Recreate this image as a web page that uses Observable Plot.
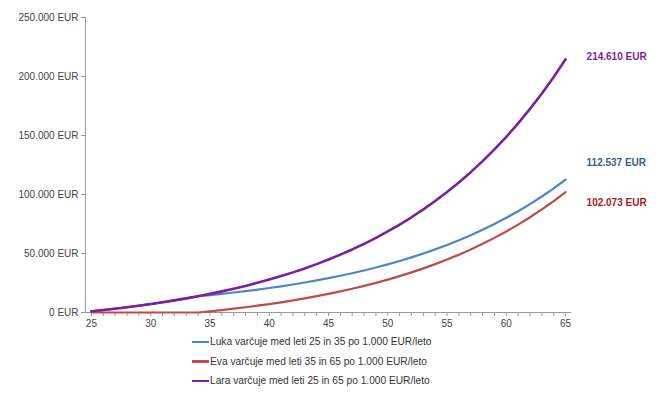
<!DOCTYPE html>
<html>
<head>
<meta charset="utf-8">
<script src="https://cdn.jsdelivr.net/npm/d3@7"></script>
<script src="https://cdn.jsdelivr.net/npm/@observablehq/plot@0.6"></script>
<style>
  body { margin: 0; background: #fff; font-family: "Liberation Sans", Arial, sans-serif; }
  #legend { position: relative; margin-left: 192px; font-size: 10.2px; color: #333; }
  #legend .row { height: 19.5px; display: flex; align-items: center; }
  #legend .sw { width: 17px; height: 2.5px; margin-right: 1px; }
</style>
</head>
<body>
<div id="chart"></div>
<div id="legend"></div>
<script>
const ages = [25,26,27,28,29,30,31,32,33,34,35,36,37,38,39,40,41,42,43,44,45,46,47,48,49,50,51,52,53,54,55,56,57,58,59,60,61,62,63,64,65];
const luka = [1000,2070,3215,4440,5751,7153,8654,10260,11978,13816,14784,15818,16926,18110,19378,20735,22186,23739,25401,27179,29081,31118,33295,35627,38120,40788,43644,46699,49967,53466,57208,61212,65497,70081,74987,80237,85853,91863,98294,105174,112537];
const eva = [0,0,0,0,0,0,0,0,0,0,1000,2070,3215,4440,5751,7153,8654,10260,11978,13816,15784,17888,20141,22550,25129,27888,30840,33999,37379,40995,44865,49006,53436,58177,63249,68676,74484,80698,87346,94461,102073];
const lara = [1000,2070,3215,4440,5751,7153,8654,10260,11978,13816,15784,17888,20141,22550,25129,27888,30840,33999,37379,40995,44865,49006,53436,58177,63249,68676,74484,80698,87346,94461,102073,110218,118933,128258,138236,148913,160337,172561,185640,199635,214610];
const seriesNames = ["Luka varčuje med leti 25 in 35 po 1.000 EUR/leto","Eva varčuje med leti 35 in 65 po 1.000 EUR/leto","Lara varčuje med leti 25 in 65 po 1.000 EUR/leto"];
const endLabels = ["112.537 EUR","102.073 EUR","214.610 EUR"];
const yTicks = [0,50000,100000,150000,200000,250000];
const yTickLabels = ["0 EUR","50.000 EUR","100.000 EUR","150.000 EUR","200.000 EUR","250.000 EUR"];
const xLabelTicks = [25,30,35,40,45,50,55,60,65];

const lineColors = ["#4A86CF","#BE4B48","#7A1FA0"];
const labelColors = ["#366092","#A51C1C","#7A1FA0"];
const widths = [2.2,2.2,2.6];
const seriesVals = [luka, eva, lara];

const rows = [];
seriesVals.forEach((vals, s) => vals.forEach((v, i) => rows.push({age: ages[i], value: v, s})));
const ends = seriesVals.map((vals, s) => ({age: ages[ages.length-1], value: vals[vals.length-1], s, label: endLabels[s]}));
const dys = [-17, 11, -2];

const marks = [
  Plot.ruleX([24.5], {y1: 0, y2: 250000, stroke: "#9a9a9a", strokeWidth: 1}),
  Plot.ruleY([0], {x1: 24.5, x2: 65.5, stroke: "#9a9a9a", strokeWidth: 1}),
];
[0,1,2].forEach(s => {
  marks.push(Plot.line(rows.filter(r => r.s === s), {x: "age", y: "value", stroke: lineColors[s], strokeWidth: widths[s], curve: "linear"}));
});
ends.forEach((e, s) => {
  marks.push(Plot.text([e], {x: "age", y: "value", text: "label", dx: 21, dy: dys[s], textAnchor: "start", fill: labelColors[s], fontWeight: "bold", fontSize: 10}));
});

const chart = Plot.plot({
  width: 660,
  height: 332,
  marginLeft: 85,
  marginRight: 89,
  marginTop: 17,
  marginBottom: 20,
  style: {fontFamily: "'Liberation Sans', Arial, sans-serif", fontSize: "10px", color: "#444", background: "#fff"},
  x: {type: "linear", domain: [24.5, 65.5], label: null},
  y: {type: "linear", domain: [0, 250000], label: null},
  marks: [
    Plot.axisX({ticks: ages, tickSize: 4, stroke: "#9a9a9a", tickFormat: () => "", label: null}),
    Plot.axisX({ticks: xLabelTicks, tickSize: 0, tickPadding: 7, tickFormat: d => String(d), fill: "#444", label: null}),
    Plot.axisY({ticks: yTicks, tickSize: 4, tickPadding: 3, stroke: "#9a9a9a", fill: "#444", tickFormat: d => yTickLabels[yTicks.indexOf(d)], label: null}),
    ...marks
  ]
});
document.getElementById("chart").appendChild(chart);

const legend = document.getElementById("legend");
seriesNames.forEach((n, s) => {
  const row = document.createElement("div");
  row.className = "row";
  const sw = document.createElement("span");
  sw.className = "sw";
  sw.style.background = lineColors[s];
  const t = document.createElement("span");
  t.textContent = n;
  row.appendChild(sw); row.appendChild(t);
  legend.appendChild(row);
});
</script>
</body>
</html>
